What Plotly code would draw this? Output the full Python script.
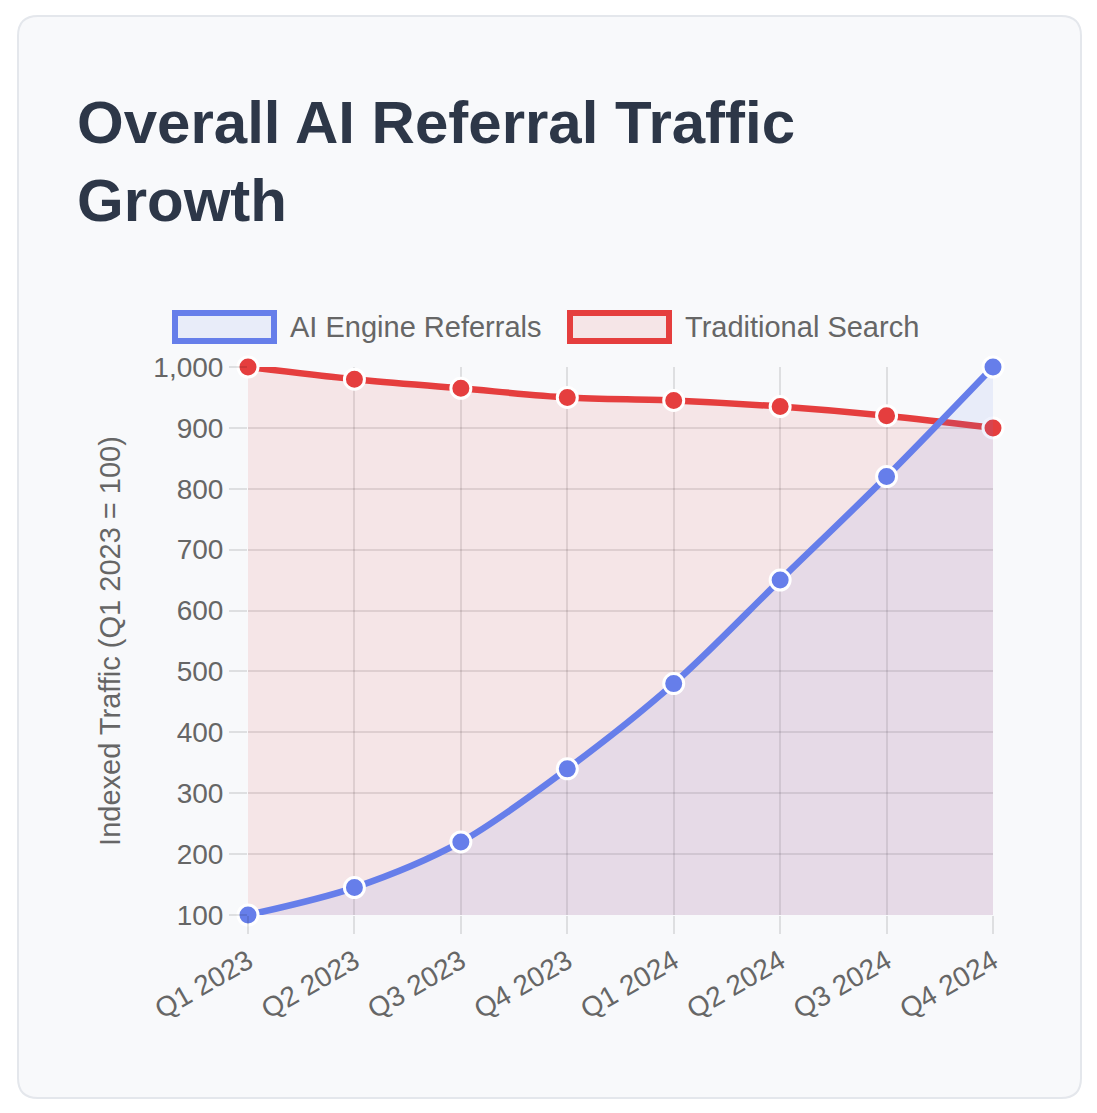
import plotly.graph_objects as go

quarters = ["Q1 2023", "Q2 2023", "Q3 2023", "Q4 2023", "Q1 2024", "Q2 2024", "Q3 2024", "Q4 2024"]
ai_referrals = [100, 145, 220, 340, 480, 650, 820, 1000]
traditional_search = [1000, 980, 965, 950, 945, 935, 920, 900]

BLUE = "#667eea"
RED = "#e53e3e"
OFF = 8  # page body margin
W, H = 1097 - 2 * OFF, 1113 - 2 * OFF
L, R, T, B = 248, 993, 367, 915  # plot area in screen pixels


def px(x):
    return (x - L) / (R - L)


def py(y):
    return (B - y) / (B - T)


fig = go.Figure()

fig.add_trace(go.Scatter(
    x=quarters, y=traditional_search, name="Traditional Search",
    mode="lines+markers", line=dict(color=RED, width=6.5, shape="spline", smoothing=0.9),
    marker=dict(size=20, color=RED, line=dict(color="white", width=3)),
    fill="tozeroy", fillcolor="rgba(229,62,62,0.1)", cliponaxis=False,
))
fig.add_trace(go.Scatter(
    x=quarters, y=ai_referrals, name="AI Engine Referrals",
    mode="lines+markers", line=dict(color=BLUE, width=6.5, shape="spline", smoothing=0.9),
    marker=dict(size=20, color=BLUE, line=dict(color="white", width=3)),
    fill="tozeroy", fillcolor="rgba(102,126,234,0.1)", cliponaxis=False,
))

# card background
x0, x1, y0, y1, r = 18, 1081, 16, 1098, 20
card = (f"M {px(x0 + r)} {py(y0)} L {px(x1 - r)} {py(y0)} "
        f"Q {px(x1)} {py(y0)} {px(x1)} {py(y0 + r)} L {px(x1)} {py(y1 - r)} "
        f"Q {px(x1)} {py(y1)} {px(x1 - r)} {py(y1)} L {px(x0 + r)} {py(y1)} "
        f"Q {px(x0)} {py(y1)} {px(x0)} {py(y1 - r)} L {px(x0)} {py(y0 + r)} "
        f"Q {px(x0)} {py(y0)} {px(x0 + r)} {py(y0)} Z")

shapes = [dict(type="path", path=card, xref="paper", yref="paper", layer="below",
               fillcolor="#f8f9fb", line=dict(color="#e4e7ec", width=2))]

# legend boxes
for (bx0, bx1), col, fc in [((175, 274), BLUE, "rgba(102,126,234,0.1)"),
                            ((570, 669), RED, "rgba(229,62,62,0.1)")]:
    shapes.append(dict(type="rect", xref="paper", yref="paper",
                       x0=px(bx0), x1=px(bx1), y0=py(341), y1=py(313),
                       fillcolor=fc, line=dict(color=col, width=6)))

annotations = [
    dict(text="<b>Overall AI Referral Traffic</b><br><b>Growth</b>", xref="paper", yref="paper",
         x=px(75), y=py(87), xanchor="left", yanchor="top", align="left", showarrow=False,
         font=dict(family="Liberation Sans", size=60, color="#2d3748")),
    dict(text="AI Engine Referrals", xref="paper", yref="paper", x=px(288), y=py(327),
         xanchor="left", yanchor="middle", showarrow=False,
         font=dict(family="Liberation Sans", size=29, color="#666666")),
    dict(text="Traditional Search", xref="paper", yref="paper", x=px(683), y=py(327),
         xanchor="left", yanchor="middle", showarrow=False,
         font=dict(family="Liberation Sans", size=29, color="#666666")),
]

grid = "rgba(0,0,0,0.1)"
fig.update_layout(
    width=W, height=H,
    margin=dict(l=L - OFF, r=W + OFF - R, t=T - OFF, b=H + OFF - B, pad=0),
    paper_bgcolor="white", plot_bgcolor="rgba(0,0,0,0)",
    showlegend=False,
    shapes=shapes, annotations=annotations,
    font=dict(family="Liberation Sans", size=28, color="#666666"),
    xaxis=dict(range=[0, 7], showgrid=True, gridcolor=grid, gridwidth=2,
               ticks="outside", ticklen=18, tickcolor=grid, tickwidth=2,
               tickangle=-30, zeroline=False, showline=False,
               tickfont=dict(size=28, color="#666666")),
    yaxis=dict(range=[100, 1000], dtick=100, tick0=100, tickformat=",",
               showgrid=True, gridcolor=grid, gridwidth=2,
               ticks="outside", ticklen=18, tickcolor=grid, tickwidth=2,
               zeroline=False, showline=False,
               tickfont=dict(size=28, color="#666666"),
               title=dict(text="Indexed Traffic (Q1 2023 = 100)", standoff=24,
                          font=dict(size=29, color="#666666"))),
)

fig.write_html("out.html")
